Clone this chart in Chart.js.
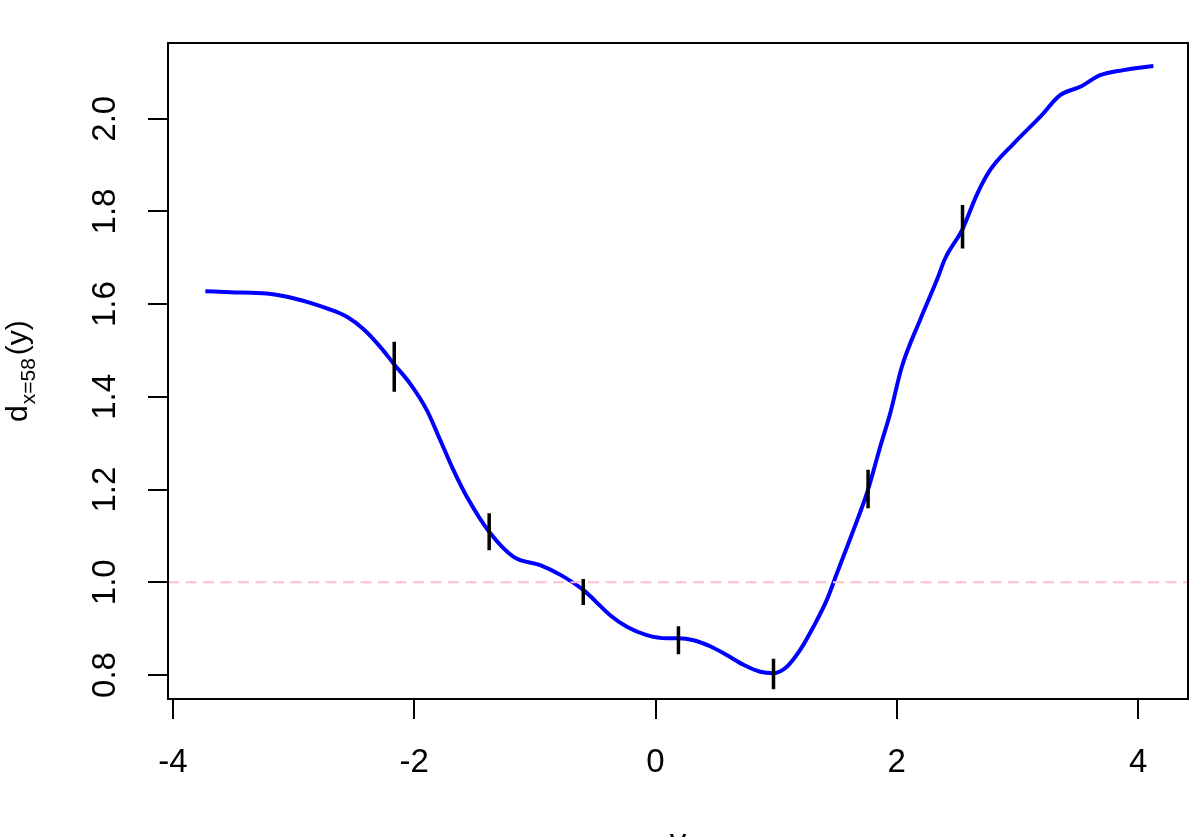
<!DOCTYPE html>
<html><head><meta charset="utf-8">
<script src="https://cdn.jsdelivr.net/npm/chart.js@4.4.0/dist/chart.umd.min.js"></script>
<style>html,body{margin:0;padding:0;background:#fff;} canvas{display:block;}</style>
</head><body>
<canvas id="c" width="1196" height="837"></canvas>
<script>
const curveX = [-3.732,-3.524,-3.221,-3.055,-2.890,-2.724,-2.558,-2.420,-2.282,-2.166,-2.033,-1.895,-1.785,-1.675,-1.563,-1.379,-1.177,-0.956,-0.788,-0.597,-0.376,-0.238,-0.072,0.094,0.190,0.315,0.453,0.591,0.729,0.867,0.978,1.089,1.199,1.309,1.420,1.503,1.593,1.682,1.762,1.862,1.945,2.042,2.193,2.332,2.400,2.545,2.663,2.773,2.967,3.188,3.354,3.520,3.686,3.878,4.127];
const curveY = [1.628,1.626,1.623,1.616,1.605,1.591,1.573,1.546,1.508,1.470,1.428,1.371,1.307,1.242,1.184,1.109,1.055,1.037,1.016,0.983,0.929,0.904,0.886,0.879,0.879,0.875,0.862,0.843,0.822,0.807,0.804,0.818,0.854,0.904,0.962,1.019,1.080,1.141,1.200,1.292,1.364,1.465,1.566,1.652,1.698,1.762,1.836,1.889,1.946,2.004,2.051,2.069,2.094,2.105,2.114];
const barX = [-2.166,-1.379,-0.599,0.190,0.978,1.762,2.545];
const barLo = [1.411,1.069,0.951,0.845,0.769,1.160,1.720];
const barHi = [1.519,1.149,1.007,0.905,0.835,1.243,1.814];
const refLevel = 1.0;
const xTicks = [-4,-2,0,2,4];
const xTickLabels = ['-4','-2','0','2','4'];
const yTicks = [0.8,1.0,1.2,1.4,1.6,1.8,2.0];
const yTickLabels = ['0.8','1.0','1.2','1.4','1.6','1.8','2.0'];
const xLimits = [-4.0414, 4.414];
const yLimits = [0.7482, 2.1635];
const xTitle = 'y';
const yTitleMain = 'd', yTitleSub = 'x=58', yTitleEnd = '(y)';

const FONT = '"Liberation Sans", Arial, sans-serif';

const curveData = curveX.map((x,i)=>({x, y: curveY[i]}));
const barData = [];
barX.forEach((x,i)=>{ barData.push({x, y: barLo[i]}, {x, y: barHi[i]}, {x, y: null}); });
const refData = [{x: xLimits[0], y: refLevel}, {x: xLimits[1], y: refLevel}];

const boxPlugin = {
  id: 'box',
  afterDraw(chart) {
    const ctx = chart.ctx, a = chart.chartArea;
    ctx.save();
    ctx.strokeStyle = '#000';
    ctx.lineWidth = 2;
    ctx.strokeRect(a.left, a.top, a.right - a.left, a.bottom - a.top);
    // x title
    ctx.fillStyle = '#000';
    ctx.font = '33px ' + FONT;
    ctx.textAlign = 'center';
    ctx.textBaseline = 'alphabetic';
    ctx.fillText(xTitle, (a.left + a.right) / 2, 852);
    // y title, rotated
    ctx.translate(27, 422);
    ctx.rotate(-Math.PI / 2);
    ctx.textAlign = 'left';
    ctx.font = '30px ' + FONT;
    ctx.fillText(yTitleMain, 0, 0);
    let w = ctx.measureText(yTitleMain).width;
    ctx.font = '21px ' + FONT;
    ctx.fillText(yTitleSub, w + 1, 8);
    w += 1 + ctx.measureText(yTitleSub).width + 3;
    ctx.font = '30px ' + FONT;
    ctx.fillText(yTitleEnd, w, 0);
    ctx.restore();
  }
};

new Chart(document.getElementById('c'), {
  type: 'line',
  data: {
    datasets: [
      { data: barData, borderColor: '#000', borderWidth: 3.5, pointRadius: 0, spanGaps: false, order: 0, borderCapStyle: 'butt' },
      { data: refData, borderColor: '#FFC0CB', borderWidth: 2, borderDash: [11, 6.5], pointRadius: 0, order: 1 },
      { data: curveData, borderColor: '#0000FF', borderWidth: 4, pointRadius: 0, cubicInterpolationMode: 'monotone', order: 2 }
    ]
  },
  options: {
    responsive: false,
    animation: false,
    devicePixelRatio: 1,
    layout: { padding: { top: 43, right: 8, bottom: 0, left: 0 } },
    plugins: { legend: { display: false }, tooltip: { enabled: false } },
    scales: {
      x: {
        type: 'linear', min: xLimits[0], max: xLimits[1],
        afterFit(s) { s.height = 138; },
        afterBuildTicks(s) { s.ticks = xTicks.map(v => ({ value: v })); },
        grid: { drawOnChartArea: false, drawTicks: true, tickLength: 20, color: '#000', lineWidth: 2 },
        border: { display: false },
        ticks: { color: '#000', font: { size: 33, family: FONT }, padding: 24, maxRotation: 0, minRotation: 0,
          callback: (v) => { const i = xTicks.indexOf(v); return i >= 0 ? xTickLabels[i] : ''; } }
      },
      y: {
        type: 'linear', min: yLimits[0], max: yLimits[1],
        afterFit(s) { s.width = 168; },
        afterBuildTicks(s) { s.ticks = yTicks.map(v => ({ value: v })); },
        grid: { drawOnChartArea: false, drawTicks: true, tickLength: 20, color: '#000', lineWidth: 2 },
        border: { display: false },
        ticks: { color: '#000', font: { size: 33, family: FONT }, padding: 19, minRotation: 90, maxRotation: 90, crossAlign: 'center',
          callback: (v) => { const i = yTicks.findIndex(t => Math.abs(t - v) < 1e-9); return i >= 0 ? yTickLabels[i] : ''; } }
      }
    }
  },
  plugins: [boxPlugin]
});
</script>
</body></html>
